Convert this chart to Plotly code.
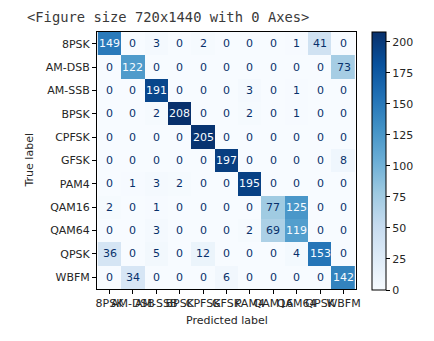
import plotly.graph_objects as go

labels = ["8PSK", "AM-DSB", "AM-SSB", "BPSK", "CPFSK", "GFSK", "PAM4", "QAM16", "QAM64", "QPSK", "WBFM"]
matrix = [
    [149, 0, 3, 0, 2, 0, 0, 0, 1, 41, 0],
    [0, 122, 0, 0, 0, 0, 0, 0, 0, 0, 73],
    [0, 0, 191, 0, 0, 0, 3, 0, 1, 0, 0],
    [0, 0, 2, 208, 0, 0, 2, 0, 1, 0, 0],
    [0, 0, 0, 0, 205, 0, 0, 0, 0, 0, 0],
    [0, 0, 0, 0, 0, 197, 0, 0, 0, 0, 8],
    [0, 1, 3, 2, 0, 0, 195, 0, 0, 0, 0],
    [2, 0, 1, 0, 0, 0, 0, 77, 125, 0, 0],
    [0, 0, 3, 0, 0, 0, 2, 69, 119, 0, 0],
    [36, 0, 5, 0, 12, 0, 0, 0, 4, 153, 0],
    [0, 34, 0, 0, 0, 6, 0, 0, 0, 0, 142],
]
cbar_ticks = [0, 25, 50, 75, 100, 125, 150, 175, 200]

blues = [
    [0.0, "#f7fbff"], [0.125, "#deebf7"], [0.25, "#c6dbef"], [0.375, "#9ecae1"],
    [0.5, "#6baed6"], [0.625, "#4292c6"], [0.75, "#2171b5"], [0.875, "#08519c"],
    [1.0, "#08306b"],
]

W, H = 434, 341
L, R, T, B = 97, 356, 32, 289  # plot area in pixels
TXT = "#262626"
FONT = "DejaVu Sans"

zmax = max(max(r) for r in matrix)
zmin = min(min(r) for r in matrix)
thresh = (zmax + zmin) / 2.0

pw, ph = R - L, B - T
def px(x):
    return (x - L) / pw
def py(y):
    return (B - y) / ph

fig = go.Figure()
fig.add_trace(go.Heatmap(
    z=matrix, x=labels, y=labels,
    colorscale=blues, zmin=zmin, zmax=zmax,
    hoverinfo="skip",
    colorbar=dict(
        x=px(372), xanchor="left",
        y=py(290), yanchor="bottom",
        len=(290 - 32) / ph, lenmode="fraction",
        thickness=14, thicknessmode="pixels",
        xpad=0, ypad=0,
        outlinecolor="black", outlinewidth=1,
        tickvals=cbar_ticks, ticks="outside", ticklen=4, tickcolor="black",
        tickfont=dict(family=FONT, size=11, color=TXT),
    ),
))

annotations = []
for i, row in enumerate(matrix):
    for j, v in enumerate(row):
        annotations.append(dict(
            x=labels[j], y=labels[i], xref="x", yref="y", text=str(v),
            showarrow=False,
            font=dict(family=FONT, size=11, color="#f7fbff" if v > thresh else "#08306b"),
        ))

annotations.append(dict(
    text="&lt;Figure size 720x1440 with 0 Axes&gt;", xref="paper", yref="paper",
    x=px(25), y=py(17), xanchor="left", yanchor="middle", showarrow=False,
    font=dict(family="DejaVu Sans Mono", size=13.8, color="#3a3a3a"),
))
annotations.append(dict(
    text="True label", xref="paper", yref="paper", x=px(29), y=py(160.5),
    xanchor="center", yanchor="middle", textangle=-90, showarrow=False,
    font=dict(family=FONT, size=11, color=TXT),
))
annotations.append(dict(
    text="Predicted label", xref="paper", yref="paper", x=px(226.5), y=py(320),
    xanchor="center", yanchor="middle", showarrow=False,
    font=dict(family=FONT, size=11, color=TXT),
))

axis_common = dict(
    showline=True, linecolor="black", linewidth=1, mirror=True,
    ticks="outside", ticklen=4, tickcolor="black", tickwidth=1,
    showgrid=False, zeroline=False,
    tickfont=dict(family=FONT, size=11, color=TXT),
    tickmode="array", tickvals=labels, ticktext=labels,
    fixedrange=True,
)

fig.update_layout(
    width=W, height=H,
    margin=dict(l=L, r=W - R, t=T, b=H - B, pad=0),
    paper_bgcolor="white", plot_bgcolor="white",
    xaxis=dict(**axis_common, tickangle=0),
    yaxis=dict(**axis_common, autorange="reversed"),
    annotations=annotations,
    showlegend=False,
)

fig.write_html("out.html")
